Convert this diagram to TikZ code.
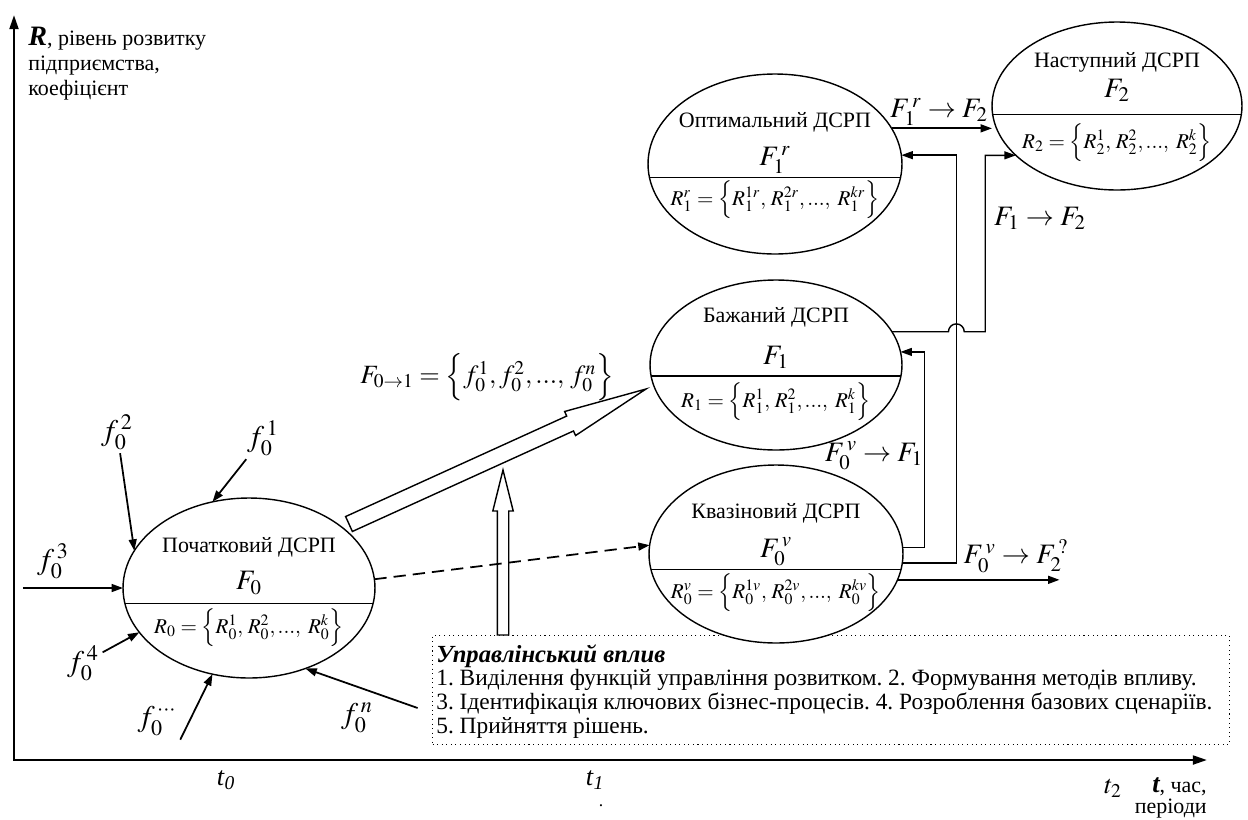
\documentclass[tikz,border=0pt]{standalone}
\usepackage{mathptmx}
\usepackage[no-math]{fontspec}
\setmainfont{Liberation Serif}
\usetikzlibrary{arrows.meta, shapes.geometric, shapes.arrows, positioning, calc}
\frenchspacing

\begin{document}
\begin{tikzpicture}[
        x = 0.02cm, y = -0.02cm,
        >= {Triangle[length = 6.5pt, width = 4.5pt]},
        dsrp/.style = {ellipse, draw, fill = white, line width = 0.8pt, inner sep = 0pt, outer sep = 0pt},
        chord/.style = {line width = 0.8pt},
        dsrpname/.style = {font = \fontsize{12.5}{14}\selectfont},
        dsrpF/.style = {font = \fontsize{16}{18}\selectfont},
        dsrpR/.style = {font = \fontsize{12}{14}\selectfont},
        factor/.style = {font = \fontsize{17}{19}\selectfont, inner sep = 2pt},
        flow/.style = {->, line width = 1pt},
        link/.style = {->, line width = 0.8pt},
        hollow/.style = {single arrow, draw, fill = white, line width = 0.8pt, outer sep = 0pt},
        axis/.style = {{Triangle[length = 8pt, width = 5pt]}-{Triangle[length = 8pt, width = 5pt]}, line width = 1.4pt},
        ctrlbox/.style = {draw, dotted, line width = 0.6pt, minimum width = 15.94cm, minimum height = 2.18cm},
        ctrltext/.style = {inner sep = 0pt, align = left, font = \fontsize{13.3}{13.6}\selectfont}
    ]
    \useasboundingbox (0,0) rectangle (1248,819);

    % axes
    \coordinate (ytop) at (14,15);
    \coordinate (xend) at (1207,760);
    \draw[axis] (ytop) |- (xend);
    \node[anchor = north west, align = left, inner sep = 0pt, font = \fontsize{12.5}{14.2}\selectfont] (rlab) at (28,27)
        {{\fontsize{16}{14}\selectfont\bfseries\itshape R}, рівень розвитку\\підприємства,\\коефіцієнт};
    \node[anchor = north east, align = right, inner sep = 0pt, font = \fontsize{12.5}{12.3}\selectfont] (tlab) at (1207,777)
        {{\fontsize{15}{12}\selectfont\bfseries\itshape t}, час,\\періоди};
    \node[font = \fontsize{15}{16}\selectfont] (t0) at (226,780) {\textit{t}\textsubscript{\textit{0}}};
    \node[font = \fontsize{15}{16}\selectfont] (t1) at (595,780) {\textit{t}\textsubscript{\textit{1}}};
    \node[font = \fontsize{15}{16}\selectfont] (t2) at (1113,788) {$t_2$};
    \node (dot) at (601,806) {.};

    % management influence
    \node[ctrlbox, anchor = north west] (ctrl) at (432,635) {};
    \node[ctrltext, anchor = north west] (ctrltxt) at ($(ctrl.north west) + (4,9)$)
        {{\fontsize{14}{15}\selectfont\bfseries\itshape Управлінський вплив}\\
        1. Виділення функцій управління розвитком. 2. Формування методів впливу.\\
        3. Ідентифікація ключових бізнес-процесів. 4. Розроблення базових сценаріїв.\\
        5. Прийняття рішень.};

    \coordinate (bigtail) at (349,524);
    \coordinate (bigtip) at (646,389);
    \path let \p1 = ($(bigtip) - (bigtail)$) in
        node[hollow, inner sep = 0.15cm, minimum height = {veclen(\x1,\y1)},
            single arrow head extend = 0.1cm, single arrow tip angle = 18,
            rotate = {atan2(\y1,\x1)}, anchor = tail] (big) at (bigtail) {};
    \coordinate (ctrltail) at ($(ctrl.north west) + (71,0)$);
    \node[hollow, inner sep = 0.1cm, minimum height = 3.3cm,
        single arrow head extend = 0.09cm, single arrow tip angle = 28,
        rotate = 90, anchor = tail] (up) at (ctrltail) {};

    % states of development
    \node[dsrp, minimum width = 5.04cm, minimum height = 3.6cm] (init) at (249,588) {};
    \node[dsrp, minimum width = 5.08cm, minimum height = 3.56cm] (quasi) at (776,554) {};
    \node[dsrp, minimum width = 5.04cm, minimum height = 3.4cm] (des) at (776,365) {};
    \node[dsrp, minimum width = 5.08cm, minimum height = 3.6cm] (opt) at (775,164) {};
    \node[dsrp, minimum width = 5cm, minimum height = 3.36cm] (next) at (1117,106) {};

    \draw[chord] (init.187) -- (init.-7);
    \draw[chord] (quasi.187) -- (quasi.-7);
    \draw[chord] (des.185) -- (des.-5);
    \draw[chord] (opt.186) -- (opt.-6);
    \draw[chord] (next.184) -- (next.-4);

    \node[dsrpname] at ($(init) + (0,-41)$) {Початковий ДСРП};
    \node[dsrpF] at ($(init) + (0,-5)$) {$F_0$};
    \node[dsrpR] at ($(init) + (0,40)$) {$R_0=\Bigl\{R_0^1,\,R_0^2,...,\;R_0^k\Bigr\}$};

    \node[dsrpname] at ($(quasi) + (0,-41)$) {Квазіновий ДСРП};
    \node[dsrpF] at ($(quasi) + (0,-2)$) {$F_0^{\,v}$};
    \node[dsrpR] at ($(quasi) + (0,39)$) {$R_0^v=\Bigl\{R_0^{1v},\,R_0^{2v},...,\;R_0^{kv}\Bigr\}$};

    \node[dsrpname] at ($(des) + (0,-48)$) {Бажаний ДСРП};
    \node[dsrpF] at ($(des) + (0,-8)$) {$F_1$};
    \node[dsrpR] at ($(des) + (0,37)$) {$R_1=\Bigl\{R_1^1,\,R_1^2,...,\;R_1^k\Bigr\}$};

    \node[dsrpname] at ($(opt) + (0,-42)$) {Оптимальний ДСРП};
    \node[dsrpF] at ($(opt) + (0,-4)$) {$F_1^{\,r}$};
    \node[dsrpR] at ($(opt) + (0,36)$) {$R_1^r=\Bigl\{R_1^{1r},\,R_1^{2r},...,\;R_1^{kr}\Bigr\}$};

    \node[dsrpname] at ($(next) + (0,-44)$) {Наступний ДСРП};
    \node[dsrpF] at ($(next) + (0,-16)$) {$F_2$};
    \node[dsrpR] at ($(next) + (0,37)$) {$R_2=\Bigl\{R_2^1,\,R_2^2,...,\;R_2^k\Bigr\}$};

    % factors of the initial state
    \node[factor] (f1) at (263,438) {$f_0^{\,1}$};
    \node[factor] (f2) at (117,432) {$f_0^{\,2}$};
    \node[factor] (f3) at (53,561) {$f_0^{\,3}$};
    \node[factor] (f4) at (83,663) {$f_0^{\,4}$};
    \node[factor] (fd) at (157,721) {$f_0^{\,\cdots}$};
    \node[factor] (fn) at (357,718) {$f_0^{\,n}$};

    \draw[flow] (f1) -- (init.113);
    \draw[flow] (f2) -- (init.162);
    \draw[flow] ([xshift = -6pt]init.west -| f3.west) -- (init.west);
    \draw[flow] (f4) -- (init.202);
    \draw[flow] (fd.south east) -- (init.247);
    \draw[flow] ([shift = {(41,-10)}]fn.east) -- (init.-55);

    \node[font = \fontsize{15}{17}\selectfont] (fset) at (487,377)
        {$F_{0\to1}=\Bigl\{f_0^1,f_0^2,...,\,f_0^n\Bigr\}$};

    % transitions
    \draw[flow, dash pattern = on 7pt off 4pt] (init.4) -- (quasi.176);
    \draw[link] (quasi.3) -- ++(22,0) |- (des.6);
    \coordinate (vo) at ($(quasi.-4) + (54,0)$);
    \draw[link] (quasi.-4) -- (vo) |- (opt.4);
    \draw[link] (des.16) -- ([xshift = -4.5pt]des.16 -| vo) arc[start angle = 180, end angle = 0, radius = 4.5pt]
        -- ++(21,0) |- (next.206);
    \draw[flow] (opt.17) -- (opt.17 -| next.west);
    \draw[flow] (quasi.-12) -- ++(162,0);

    \node[dsrpF] at (874,456) {$F_0^{\,v}\to F_1$};
    \node[dsrpF] at (1016,556) {$F_0^{\,v}\to F_2^{\,?}$};
    \node[dsrpF] at (1040,218) {$F_1\to F_2$};
    \node[dsrpF] at (939,112) {$F_1^{\,r}\to F_2$};

\end{tikzpicture}
\end{document}
